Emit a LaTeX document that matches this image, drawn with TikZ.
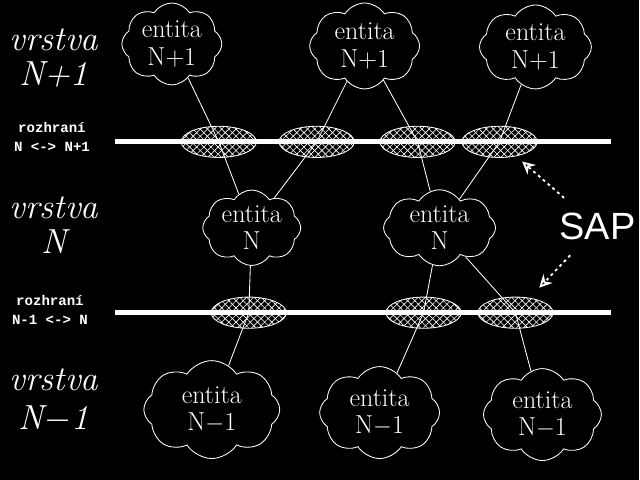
\documentclass[tikz,border=0pt]{standalone}
\usepackage{fontspec}
\newfontfamily\sapfont{Liberation Sans}
\newfontfamily\ifacefont{Liberation Mono}
\usetikzlibrary{shapes.symbols,shapes.geometric,patterns,patterns.meta,arrows.meta}

\tikzset{
  entity/.style={cloud, cloud puffs=8, cloud puff arc=115, cloud ignores aspect,
    draw=white, line width=0.6pt, text=white, align=center, inner sep=0pt,
    font=\fontsize{18.5}{19.5}\selectfont},
  sap/.style={ellipse, draw=white, line width=0.6pt,
    pattern={Lines[angle=45,distance=3.6pt,line width=0.45pt]}, pattern color=white,
    postaction={pattern={Lines[angle=-45,distance=3.6pt,line width=0.45pt]}, pattern color=white},
    minimum width=1.88cm, minimum height=0.78cm, inner sep=0pt},
  layer/.style={text=white, align=center, font=\fontsize{24.8}{25}\selectfont\itshape},
  iface/.style={text=white, align=center, font=\fontsize{10}{13.5}\selectfont\ifacefont\bfseries},
  bar/.style={white, line width=3.5pt},
  link/.style={white, line width=0.6pt},
  saparrow/.style={white, line width=1.3pt, dash pattern=on 2pt off 2.5pt,
    -{Stealth[open,length=9pt,width=9pt]}}
}

\begin{document}
\begin{tikzpicture}[x=0.025cm,y=-0.025cm]
    \fill[black] (0,0) rectangle (640,480);
    % --- service access points on both interfaces
    \foreach \nm/\xx/\yy in {e1/219/142, e2/317/142, e3/418/142, e4/500/142,
                             e5/249/313, e6/424/313, e7/516/313}
      \node[sap] (\nm) at (\xx,\yy) {};
    \draw[bar] (115,142) -- (612,142);
    \draw[bar] (115,313) -- (612,313);
    % --- layer and interface labels
    \node[layer] (lay1) at (54,58) {vrstva\\N+1};
    \node[layer] (lay2) at (54,225) {vrstva\\N};
    \node[layer, font=\fontsize{24.8}{28}\selectfont\itshape] (lay3) at (54,401) {vrstva\\N{\upshape$-$}1};
    \node[iface] (if1) at (52,137) {rozhraní\\N <-> N+1};
    \node[iface] (if2) at (50,310) {rozhraní\\N-1 <-> N};
    % --- entities
    \node[entity, minimum width=2.5cm, minimum height=2.05cm] (t1) at (172,44) {entita\\N+1};
    \node[entity, minimum width=2.75cm, minimum height=2.15cm] (t2) at (365,46) {entita\\N+1};
    \node[entity, minimum width=2.8cm, minimum height=2.1cm] (t3) at (536,47) {entita\\N+1};
    \node[entity, minimum width=2.45cm, minimum height=1.8cm] (m1) at (252,228) {entita\\N};
    \node[entity, minimum width=2.8cm, minimum height=1.9cm] (m2) at (440,228) {entita\\N};
    \node[entity, minimum width=3.4cm, minimum height=2.45cm] (b1) at (212,410) {entita\\N$-$1};
    \node[entity, minimum width=3.0cm, minimum height=2.3cm] (b2) at (380,413) {entita\\N$-$1};
    \node[entity, minimum width=2.95cm, minimum height=2.3cm] (b3) at (543,415) {entita\\N$-$1};
    % --- connections through the SAPs
    \draw[link] (t1) -- (e1.center) -- (m1);
    \draw[link] (t2) -- (e2.center) -- (m1);
    \draw[link] (t2) -- (e3.center) -- (m2);
    \draw[link] (t3) -- (e4.center) -- (m2);
    \draw[link] (m1) -- (e5.center) -- (b1);
    \draw[link] (m2) -- (e6.center) -- (b2);
    \draw[link] (m2) -- (e7.center) -- (b3);
    % --- SAP label
    \node[text=white, font=\fontsize{27}{30}\selectfont\sapfont] (sapl) at (598,227) {SAP};
    \draw[saparrow, shorten <=0.4cm, shorten >=0.2cm] (sapl) -- (e4);
    \draw[saparrow, shorten <=0.35cm, shorten >=0.35cm] (sapl) -- (e7);
\end{tikzpicture}
\end{document}
